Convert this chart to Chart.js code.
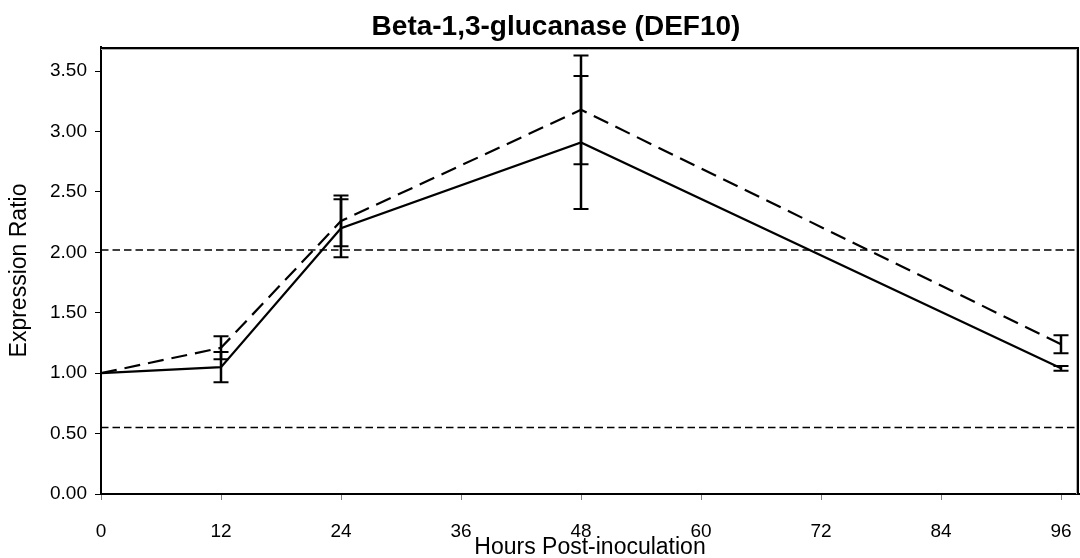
<!DOCTYPE html>
<html>
<head>
<meta charset="utf-8">
<script src="https://cdn.jsdelivr.net/npm/chart.js@4/dist/chart.umd.min.js"></script>
<style>
  html, body { margin: 0; padding: 0; background: #fff; overflow: hidden; }
  #chart { display: block; }
</style>
</head>
<body>
<canvas id="chart" width="1080" height="558"></canvas>
<script>
// Sampling times (hours post-inoculation)
const hours = [0, 12, 24, 48, 96];

// Solid series: mean expression ratio and its error
const solidRatio = [1.00, 1.05, 2.20, 2.91, 1.04];
const solidError = [0.00, 0.125, 0.24, 0.55, 0.02];

// Dashed series: mean expression ratio and its error
const dashedRatio = [1.00, 1.21, 2.26, 3.18, 1.24];
const dashedError = [0.00, 0.095, 0.21, 0.45, 0.075];

// Two-fold threshold lines
const upperThreshold = 2.02;
const lowerThreshold = 0.55;

// Axis ticks and ranges
const xTicks = [0, 12, 24, 36, 48, 60, 72, 84, 96];
const yTicks = [0, 0.5, 1.0, 1.5, 2.0, 2.5, 3.0, 3.5];
const xMax = 97.8;
const yMax = 3.70;

const FONT = "'Liberation Sans', Arial, Helvetica, sans-serif";

const toPoints = (xs, ys) => xs.map((x, i) => ({ x: x, y: ys[i] }));

// Vertical error bars with end caps, positioned through the chart scales
const errorBars = {
  id: 'errorBars',
  afterDatasetsDraw(chart) {
    const { ctx, scales: { x, y } } = chart;
    ctx.save();
    ctx.strokeStyle = '#000';
    chart.data.datasets.forEach((ds) => {
      if (!ds.errors) return;
      ds.data.forEach((p, i) => {
        const e = ds.errors[i];
        if (!e) return;
        const px = x.getPixelForValue(p.x);
        const top = y.getPixelForValue(p.y + e);
        const bot = y.getPixelForValue(p.y - e);
        const cap = 7.5;
        ctx.lineWidth = 2.5;
        ctx.beginPath();
        ctx.moveTo(px, top); ctx.lineTo(px, bot);
        ctx.stroke();
        ctx.lineWidth = 2;
        ctx.beginPath();
        ctx.moveTo(px - cap, top); ctx.lineTo(px + cap, top);
        ctx.moveTo(px - cap, bot); ctx.lineTo(px + cap, bot);
        ctx.stroke();
      });
    });
    ctx.restore();
  }
};

// Frame on the top and right of the plot area, plus the chart heading
const frameAndTitle = {
  id: 'frameAndTitle',
  afterDraw(chart) {
    const { ctx, chartArea: a } = chart;
    ctx.save();
    ctx.strokeStyle = '#b0b0b0';
    ctx.lineWidth = 1;
    ctx.beginPath();
    ctx.moveTo(a.left, a.top + 2.5); ctx.lineTo(a.right - 2.5, a.top + 2.5);
    ctx.lineTo(a.right - 2.5, a.bottom);
    ctx.stroke();
    ctx.strokeStyle = '#000';
    ctx.lineWidth = 2;
    ctx.beginPath();
    ctx.moveTo(a.left, a.top + 1); ctx.lineTo(a.right - 1, a.top + 1);
    ctx.lineTo(a.right - 1, a.bottom);
    ctx.stroke();

    ctx.fillStyle = '#000';
    ctx.font = 'bold 28px ' + FONT;
    ctx.textAlign = 'center';
    ctx.textBaseline = 'alphabetic';
    ctx.fillText('Beta-1,3-glucanase (DEF10)', 556, 35);
    ctx.restore();
  }
};

new Chart(document.getElementById('chart'), {
  type: 'scatter',
  data: {
    datasets: [
      {
        label: 'Solid',
        data: toPoints(hours, solidRatio),
        errors: solidError,
        showLine: true,
        borderColor: '#000',
        borderWidth: 2.2,
        pointRadius: 0,
        tension: 0,
        order: 1
      },
      {
        label: 'Dashed',
        data: toPoints(hours, dashedRatio),
        errors: dashedError,
        showLine: true,
        borderColor: '#000',
        borderWidth: 2.2,
        borderDash: [16, 8],
        pointRadius: 0,
        tension: 0,
        order: 2
      },
      {
        label: 'Upper threshold',
        data: [{ x: 0, y: upperThreshold }, { x: xMax, y: upperThreshold }],
        showLine: true,
        borderColor: '#000',
        borderWidth: 1.6,
        borderDash: [7.5, 4],
        pointRadius: 0,
        order: 3
      },
      {
        label: 'Lower threshold',
        data: [{ x: 0, y: lowerThreshold }, { x: xMax, y: lowerThreshold }],
        showLine: true,
        borderColor: '#000',
        borderWidth: 1.6,
        borderDash: [7.5, 4],
        pointRadius: 0,
        order: 3
      }
    ]
  },
  options: {
    responsive: false,
    animation: false,
    devicePixelRatio: 1,
    layout: { padding: { top: 47, right: 1, left: 0, bottom: 0 } },
    plugins: {
      legend: { display: false },
      tooltip: { enabled: false },
      title: { display: false }
    },
    scales: {
      x: {
        type: 'linear',
        min: 0,
        max: xMax,
        afterBuildTicks: (s) => { s.ticks = xTicks.map(v => ({ value: v })); },
        afterFit: (s) => { s.height = 64; s.paddingLeft = 0; s.paddingRight = 0; },
        border: { display: true, color: '#000', width: 2 },
        grid: { display: true, drawOnChartArea: false, color: '#808080', tickLength: 6, tickWidth: 1 },
        ticks: {
          color: '#000',
          font: { family: FONT, size: 19 },
          padding: 20,
          maxRotation: 0,
          autoSkip: false,
          callback: (v) => String(v)
        },
        title: {
          display: true,
          text: 'Hours Post-inoculation',
          color: '#000',
          font: { family: FONT, size: 23, lineHeight: 1.0 },
          padding: { top: 0, bottom: -1 }
        }
      },
      y: {
        type: 'linear',
        min: 0,
        max: yMax,
        afterBuildTicks: (s) => { s.ticks = yTicks.map(v => ({ value: v })); },
        afterFit: (s) => { s.width = 101; },
        border: { display: true, color: '#000', width: 2 },
        grid: { display: true, drawOnChartArea: false, color: '#000', tickLength: 6, tickWidth: 1 },
        ticks: {
          color: '#000',
          font: { family: FONT, size: 19 },
          padding: 8,
          autoSkip: false,
          callback: (v) => Number(v).toFixed(2)
        },
        title: {
          display: true,
          text: 'Expression Ratio',
          color: '#000',
          font: { family: FONT, size: 23, lineHeight: 1.0 },
          padding: { top: 8, bottom: 0 }
        }
      }
    }
  },
  plugins: [errorBars, frameAndTitle]
});
</script>
</body>
</html>
